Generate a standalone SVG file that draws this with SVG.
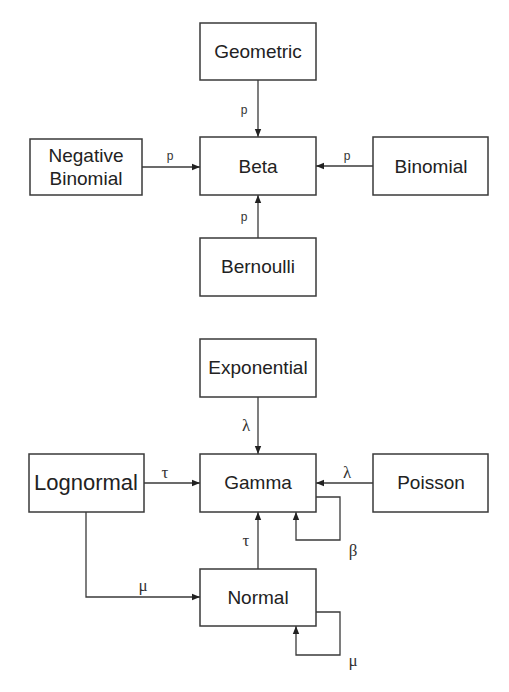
<svg xmlns="http://www.w3.org/2000/svg" width="509" height="692" viewBox="0 0 509 692">
<defs>
<style>
.box{fill:#fff;stroke:#3a3a3a;stroke-width:1.5}
.lbl{font-family:"Liberation Sans",Arial,sans-serif;font-size:19px;fill:#222;text-anchor:middle}
.p{font-family:"Liberation Sans",Arial,sans-serif;font-size:12px;fill:#333;text-anchor:middle}
.g{font-family:"Liberation Serif","Times New Roman",serif;font-size:17px;fill:#333;text-anchor:middle}
.ln{fill:none;stroke:#3a3a3a;stroke-width:1.3;marker-end:url(#ah)}
</style>
<marker id="ah" viewBox="0 0 10 10" refX="10" refY="5" markerWidth="8" markerHeight="8" markerUnits="userSpaceOnUse" orient="auto">
<path d="M0,1 L10,5 L0,9 Z" fill="#222"/>
</marker>
</defs>
<rect width="509" height="692" fill="#fff"/>
<g id="connectors">
<path class="ln" d="M258,80 V137"/>
<path class="ln" d="M142,167 H200"/>
<path class="ln" d="M373,166 H316"/>
<path class="ln" d="M258,238 V195"/>
<path class="ln" d="M258,397 V454"/>
<path class="ln" d="M144,483 H200"/>
<path class="ln" d="M373,483 H316"/>
<path class="ln" d="M316,497 H340 V540 H296 V512"/>
<path class="ln" d="M258,569 V512"/>
<path class="ln" d="M86,512 V597 H200"/>
<path class="ln" d="M316,612 H340 V655 H296 V626"/>
<text class="p" x="244" y="114">p</text>
<text class="p" x="170" y="160">p</text>
<text class="p" x="347" y="160">p</text>
<text class="p" x="244" y="221">p</text>
<text class="g" x="246" y="431">λ</text>
<text class="g" x="165" y="478">τ</text>
<text class="g" x="347" y="478">λ</text>
<text class="g" x="353" y="556">β</text>
<text class="g" x="246" y="546">τ</text>
<text class="g" x="143" y="591">μ</text>
<text class="g" x="353" y="666">μ</text>
</g>
<g id="geometric"><rect class="box" x="200" y="23" width="116" height="57"/><text class="lbl" x="258" y="58">Geometric</text></g>
<g id="beta"><rect class="box" x="200" y="137" width="116" height="58"/><text class="lbl" x="258" y="173">Beta</text></g>
<g id="negbinomial"><rect class="box" x="30" y="139" width="112" height="56"/><text class="lbl" x="86" y="162">Negative</text><text class="lbl" x="86" y="185">Binomial</text></g>
<g id="binomial"><rect class="box" x="373" y="137" width="115" height="58"/><text class="lbl" x="431" y="173">Binomial</text></g>
<g id="bernoulli"><rect class="box" x="200" y="238" width="116" height="58"/><text class="lbl" x="258" y="273">Bernoulli</text></g>
<g id="exponential"><rect class="box" x="200" y="339" width="116" height="58"/><text class="lbl" x="258" y="374">Exponential</text></g>
<g id="gamma"><rect class="box" x="200" y="454" width="116" height="58"/><text class="lbl" x="258" y="489">Gamma</text></g>
<g id="lognormal"><rect class="box" x="29" y="454" width="115" height="58"/><text class="lbl" x="86" y="490" style="font-size:22px">Lognormal</text></g>
<g id="poisson"><rect class="box" x="373" y="454" width="115" height="58"/><text class="lbl" x="431" y="489">Poisson</text></g>
<g id="normal"><rect class="box" x="200" y="569" width="116" height="57"/><text class="lbl" x="258" y="604">Normal</text></g>
</svg>
